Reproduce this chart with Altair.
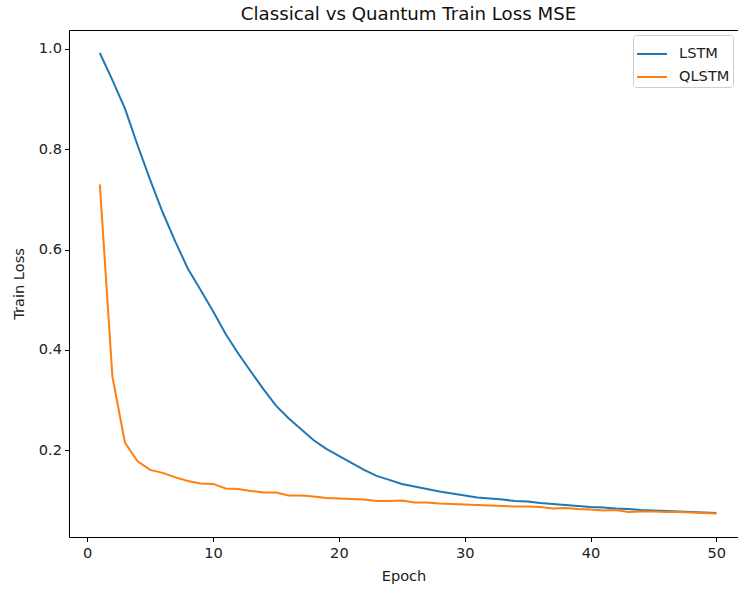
import altair as alt
import pandas as pd

epochs = list(range(1, 51))
lstm = [0.992, 0.938, 0.881, 0.808, 0.739, 0.674, 0.616, 0.562, 0.520, 0.477,
        0.432, 0.393, 0.357, 0.322, 0.289, 0.264, 0.242, 0.220, 0.203, 0.189,
        0.175, 0.161, 0.149, 0.141, 0.133, 0.128, 0.123, 0.118, 0.114, 0.110,
        0.106, 0.104, 0.102, 0.099, 0.098, 0.095, 0.093, 0.091, 0.089, 0.087,
        0.086, 0.084, 0.083, 0.081, 0.080, 0.079, 0.078, 0.077, 0.076, 0.075]
qlstm = [0.730, 0.347, 0.215, 0.178, 0.161, 0.155, 0.146, 0.139, 0.134, 0.133,
         0.124, 0.123, 0.119, 0.116, 0.116, 0.110, 0.110, 0.108, 0.105, 0.104,
         0.103, 0.102, 0.099, 0.099, 0.100, 0.096, 0.096, 0.094, 0.093, 0.092,
         0.091, 0.090, 0.089, 0.088, 0.088, 0.087, 0.084, 0.085, 0.083, 0.082,
         0.080, 0.081, 0.077, 0.078, 0.078, 0.077, 0.077, 0.076, 0.075, 0.074]
series_names = ["LSTM", "QLSTM"]
series_colors = ["#1f77b4", "#ff7f0e"]
x_ticks = [0, 10, 20, 30, 40, 50]
y_ticks = [0.2, 0.4, 0.6, 0.8, 1.0]

df = pd.DataFrame({
    "Epoch": epochs * 2,
    "Loss": lstm + qlstm,
    "Model": [series_names[0]] * len(epochs) + [series_names[1]] * len(epochs),
})

FONT = "DejaVu Sans"
FS = 14.6
xscale = alt.Scale(domain=[-1.45, 51.72], nice=False, zero=False)
yscale = alt.Scale(domain=[0.0272, 1.0378], nice=False, zero=False)

y_axis = alt.Axis(values=y_ticks, title="Train Loss", grid=False, format=".1f",
                  domainColor="black", tickColor="black", tickSize=4.5,
                  labelFontSize=FS, labelColor="#222222", labelPadding=3,
                  titleFontSize=FS, titleFontWeight="normal", titleColor="#222222",
                  titlePadding=12)

base = alt.Chart(df)

lines = base.mark_line(strokeWidth=2, clip=True).encode(
    x=alt.X("Epoch:Q", scale=xscale,
            axis=alt.Axis(values=x_ticks, title="Epoch", grid=False, format="d",
                          domainColor="black", tickColor="black", tickSize=4.5,
                          labelFontSize=FS, labelColor="#222222", labelPadding=4,
                          titleFontSize=FS, titleFontWeight="normal", titleColor="#222222",
                          titlePadding=8)),
    y=alt.Y("Loss:Q", scale=yscale, axis=y_axis),
    color=alt.Color("Model:N", scale=alt.Scale(domain=series_names, range=series_colors),
                    legend=alt.Legend(title=None)),
)

top = base.mark_line(opacity=0).encode(
    x=alt.X("Epoch:Q", scale=xscale,
            axis=alt.Axis(orient="top", labels=False, ticks=False, title=None, grid=False,
                          domainColor="black")),
    y=alt.Y("Loss:Q", scale=yscale, axis=y_axis),
    detail="Model:N",
)

chart = alt.layer(lines, top).resolve_axis(x="independent", y="shared").properties(
    width=669,
    height=507,
    autosize=alt.AutoSizeParams(type="none"),
    padding={"left": 69, "top": 30, "right": 0, "bottom": 55},
    title=alt.TitleParams("Classical vs Quantum Train Loss MSE", fontSize=18.2,
                          fontWeight="normal", font=FONT, color="#111111", dx=5, offset=6),
).configure(font=FONT).configure_view(stroke=None).configure_legend(
    orient="none", legendX=564, legendY=5,
    strokeColor="#cccccc", fillColor="rgba(255,255,255,0.8)", cornerRadius=3,
    padding=3, symbolType="stroke", symbolSize=900, symbolStrokeWidth=2,
    labelFontSize=FS, labelColor="#222222", labelOffset=11, rowPadding=-7.6,
    labelFont=FONT,
)

chart.save("out.html", embed_options={"renderer": "svg", "actions": False})
